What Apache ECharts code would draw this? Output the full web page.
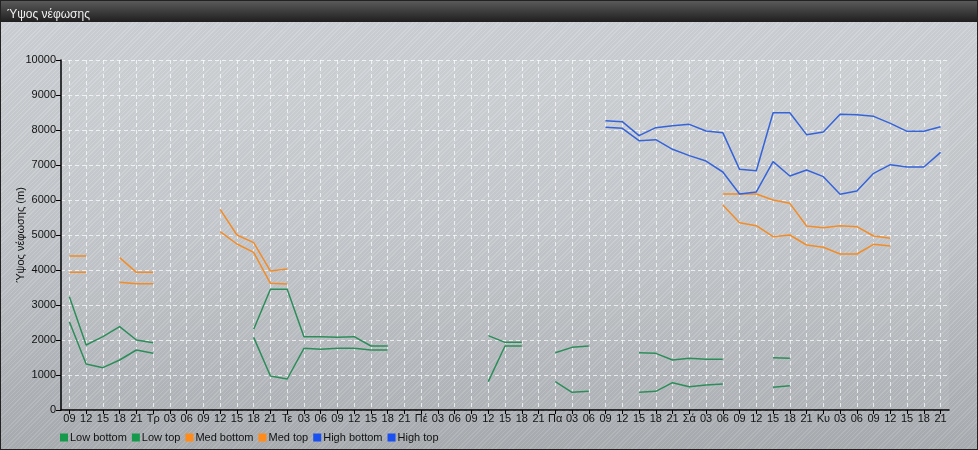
<!DOCTYPE html>
<html><head><meta charset="utf-8">
<script src="https://cdn.jsdelivr.net/npm/echarts@6/dist/echarts.min.js"></script>
<style>
html,body{margin:0;padding:0;}
#wrap{position:relative;width:976px;height:448px;border:1px solid #222;
background:
 repeating-linear-gradient(135deg, rgba(255,255,255,0.07) 0px, rgba(255,255,255,0.07) 1px, rgba(0,0,0,0.03) 1px, rgba(0,0,0,0.03) 3px),
 linear-gradient(180deg,#d0d4d8 0%,#c5c9cd 50%,#abafb3 100%);}
#c{position:absolute;left:0;top:0;width:976px;height:448px;}
</style></head>
<body><div id="wrap"><div id="c"></div></div>
<script>
const categories = ['09','12','15','18','21','Τρ','03','06','09','12','15','18','21','Τε','03','06','09','12','15','18','21','Πέ','03','06','09','12','15','18','21','Πα','03','06','09','12','15','18','21','Σά','03','06','09','12','15','18','21','Κυ','03','06','09','12','15','18','21'];
const N = null;
const lowBottom = [2524,1314,1210,1429,1714,1619, N,N,N,N,N, 2076,971,886,1762,1733,1762,1762,1714,1714, N,N,N,N,N, 810,1829,1829, N, 810,505,533, N,N, 505,533,781,667,714,743, N,N, 648,695, N,N,N,N,N,N,N,N,N];
const lowTop = [3237,1857,2095,2381,2000,1924, N,N,N,N,N, 2305,3448,3448,2095,2095,2076,2095,1829,1829, N,N,N,N,N, 2124,1933,1933, N, 1638,1790,1829, N,N, 1638,1619,1429,1476,1448,1448, N,N, 1495,1476, N,N,N,N,N,N,N,N,N];
const medBottom = [3933,3933, N, 3648,3610,3610, N,N,N, 5095,4743,4505,3619,3600, N,N,N,N,N,N,N,N,N,N,N,N,N,N,N,N,N,N,N,N,N,N,N,N,N, 5857,5352,5267,4952,5000,4714,4648,4457,4457,4733,4686, N,N,N];
const medTop = [4400,4400, N, 4352,3933,3933, N,N,N, 5733,5000,4781,3971,4029, N,N,N,N,N,N,N,N,N,N,N,N,N,N,N,N,N,N,N,N,N,N,N,N,N, 6171,6171,6171,6000,5905,5257,5210,5267,5238,4971,4905, N,N,N];
const highBottom = [N,N,N,N,N,N,N,N,N,N,N,N,N,N,N,N,N,N,N,N,N,N,N,N,N,N,N,N,N,N,N,N, 8076,8048,7695,7724,7448,7267,7114,6800,6171,6229,7095,6686,6857,6667,6162,6257,6762,7010,6943,6943,7362];
const highTop = [N,N,N,N,N,N,N,N,N,N,N,N,N,N,N,N,N,N,N,N,N,N,N,N,N,N,N,N,N,N,N,N, 8267,8238,7838,8067,8124,8162,7971,7924,6876,6838,8495,8495,7867,7943,8448,8438,8390,8190,7962,7962,8095];
const yTicks = [0,1000,2000,3000,4000,5000,6000,7000,8000,9000,10000];

const idx = categories.map((_, i) => i);
const toPts = arr => arr.map((v, i) => [i, v]);
const GREEN = '#2d8d5a', ORANGE = '#f28c28', BLUE = '#3563d9';
const LG_GREEN = '#159a4c', LG_ORANGE = '#ff8c1a', LG_BLUE = '#1a4ff0';

const series = [
  ['Low bottom', lowBottom, GREEN, LG_GREEN],
  ['Low top', lowTop, GREEN, LG_GREEN],
  ['Med bottom', medBottom, ORANGE, LG_ORANGE],
  ['Med top', medTop, ORANGE, LG_ORANGE],
  ['High bottom', highBottom, BLUE, LG_BLUE],
  ['High top', highTop, BLUE, LG_BLUE]
].map(([name, arr, c, lc]) => ({
  name, type: 'line', data: toPts(arr), showSymbol: false, symbol: 'none',
  connectNulls: false, lineStyle: { color: c, width: 1.5 }, itemStyle: { color: lc },
  emphasis: { disabled: true }, animation: false
}));

const chart = echarts.init(document.getElementById('c'), null, { renderer: 'canvas' });
chart.setOption({
  animation: false,
  backgroundColor: 'transparent',
  textStyle: { fontFamily: 'Liberation Sans, Arial, sans-serif' },
  graphic: [{
    type: 'rect', left: 0, top: 0, shape: { width: 976, height: 21 },
    style: { fill: new echarts.graphic.LinearGradient(0, 0, 0, 1, [{ offset: 0, color: '#5a5a5a' }, { offset: 1, color: '#1f1f1f' }]) },
    z: 0, silent: true
  }, {
    type: 'rect', left: 60, top: 59, shape: { width: 888, height: 350 },
    style: { fill: 'rgba(255,255,255,0.06)' }, z: 0, silent: true
  }],
  title: {
    text: 'Ύψος νέφωσης', left: 1, top: 3,
    textStyle: { color: '#f0f0f0', fontSize: 12, fontWeight: 'normal', fontFamily: 'Liberation Sans, Arial, sans-serif' }
  },
  legend: {
    left: 54, top: 426, icon: 'rect', itemWidth: 8, itemHeight: 8, itemGap: 5,
    textStyle: { fontSize: 11, color: '#111', padding: [0, 0, 0, -3] },
    data: series.map(s => ({ name: s.name }))
  },
  grid: { left: 60, right: 28, top: 59, bottom: 39, containLabel: false, outerBoundsMode: 'none' },
  xAxis: {
    type: 'value', min: -0.5, max: 52.5,
    axisLine: { show: true, onZero: false, lineStyle: { color: '#000', width: 1.5 } },
    axisTick: { show: true, customValues: idx, length: 4, inside: false, lineStyle: { color: '#000' } },
    axisLabel: { customValues: idx, formatter: v => categories[Math.round(v)], color: '#111', fontSize: 11, margin: 3 },
    splitLine: { show: true, lineStyle: { color: 'rgba(255,255,255,0.7)', type: [4, 3], width: 1 } }
  },
  yAxis: {
    type: 'value', min: 0, max: 10000, interval: 1000,
    name: 'Ύψος νέφωσης (m)', nameLocation: 'middle', nameRotate: 90, nameGap: 35, nameMoveOverlap: false,
    nameTextStyle: { color: '#111', fontSize: 11 },
    axisLine: { show: true, onZero: false, lineStyle: { color: '#000', width: 1.5 } },
    axisTick: { show: true, length: 5, lineStyle: { color: '#000' } },
    axisLabel: { color: '#111', fontSize: 11, margin: 5, formatter: v => yTicks.includes(v) ? String(v) : '' },
    splitLine: { show: true, lineStyle: { color: 'rgba(255,255,255,0.7)', type: [4, 3], width: 1 } }
  },
  series
});
</script></body></html>
